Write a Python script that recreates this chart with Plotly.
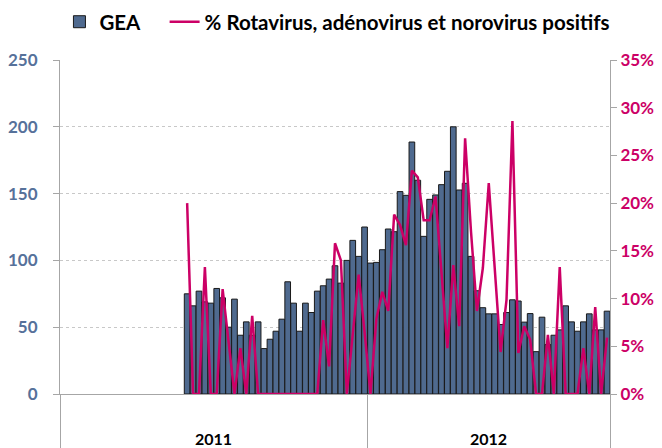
import plotly.graph_objects as go

# ---- data ----
years = ["2011", "2012"]
weeks_in_year = [52, 41]          # category slots shown per year
weeks_2011 = list(range(22, 53))  # weeks with data in 2011
weeks_2012 = list(range(1, 42))   # weeks with data in 2012

gea_2011 = [75, 66, 77, 69, 68, 79, 72, 50, 71, 44,
            54, 44, 54, 34, 41, 47, 56, 84, 68, 47,
            68, 61, 77, 81, 86, 96, 83, 100, 115, 103, 125]
gea_2012 = [98, 98.5, 108, 123.5, 121.5, 151.5, 148.7, 188.6, 160, 118,
            145.7, 149, 156.7, 166.7, 200, 152.7, 157.7, 103, 77.3, 64.6,
            60, 60, 52, 61, 70.5, 69.6, 53.8, 60.2, 31.7, 57.5,
            37, 44, 48, 66, 54, 47, 54, 60, 48, 48, 62]

pct_2011 = [20, 0, 0, 13.3, 0, 0, 11.0, 5.5, 0, 4.8,
            0, 8.2, 0, 0, 0, 0, 0, 0, 0, 0,
            0, 0, 0, 7.75, 2.9, 15.8, 14.0, 0, 6.2, 12.5, 6.5]
pct_2012 = [0, 7.9, 10.7, 8.7, 18.8, 17.7, 15.6, 23.4, 22.7, 18.2,
            18.2, 20.7, 12.7, 4.8, 13.5, 7.1, 26.8, 17.0, 8.7, 13.2,
            22.1, 13.3, 4.4, 9.85, 28.6, 4.3, 7.1, 5.7, 0, 0,
            6.2, 0, 13.3, 0, 0, 0, 4.8, 0, 9.1, 0, 5.9]

left_ticks = [0, 50, 100, 150, 200, 250]
right_ticks = [0, 5, 10, 15, 20, 25, 30, 35]

# ---- positions on a continuous week axis ----
x_2011 = [w - 1 for w in weeks_2011]
x_2012 = [weeks_in_year[0] + w - 1 for w in weeks_2012]
x_all = x_2011 + x_2012
gea_all = gea_2011 + gea_2012
pct_all = pct_2011 + pct_2012

bounds = [-0.5]
for n in weeks_in_year:
    bounds.append(bounds[-1] + n)
centers = [(bounds[i] + bounds[i + 1]) / 2 for i in range(len(years))]

FONT = "Lato, sans-serif"
BAR = "#4F6A8F"
LINE = "#CC0066"
AXIS_BLUE = "#56719A"
GRID = "#C8C8C8"
AXLINE = "#A6A6A6"
NBSP = "\u00a0"

fig = go.Figure()
fig.add_trace(go.Bar(
    x=x_all, y=gea_all, name="GEA" + NBSP * 4,
    marker=dict(color=BAR, line=dict(color="#1A1A1A", width=1)),
    yaxis="y",
))
fig.add_trace(go.Scatter(
    x=x_all, y=pct_all, name="% Rotavirus, adénovirus et norovirus positifs",
    mode="lines", line=dict(color=LINE, width=2.5),
    yaxis="y2",
))

annotations = [
    dict(x=c, y=0, xref="x", yref="paper", text=t,
         showarrow=False, yanchor="top", yshift=-33,
         font=dict(family=FONT, size=16, color="#000000", weight="bold"))
    for c, t in zip(centers, years)
]

fig.update_layout(
    width=662, height=448,
    margin=dict(l=60, r=52, t=60, b=54, autoexpand=False),
    paper_bgcolor="white", plot_bgcolor="white",
    bargap=0.04,
    showlegend=True,
    legend=dict(orientation="h", xref="paper", x=-0.001, xanchor="left",
                yref="paper", y=1.174, yanchor="top",
                font=dict(family=FONT, size=20.5, color="#000000", weight="bold"),
                itemwidth=30, traceorder="normal", tracegroupgap=0),
    font=dict(family=FONT),
    xaxis=dict(
        range=[bounds[0], bounds[-1]],
        tickmode="array", tickvals=bounds, ticktext=["" for _ in bounds],
        ticks="outside", ticklen=54, tickcolor=AXLINE, tickwidth=1,
        showline=True, linecolor=AXLINE, linewidth=1,
        showgrid=False, zeroline=False, automargin=False,
    ),
    yaxis=dict(
        range=[0, 250], tickmode="array", tickvals=left_ticks,
        ticktext=[str(v) for v in left_ticks],
        tickfont=dict(family=FONT, size=17, color=AXIS_BLUE, weight="bold"),
        ticks="outside", ticklen=6, tickcolor=AXLINE,
        showline=True, linecolor=AXLINE, linewidth=1,
        showgrid=True, gridcolor=GRID, griddash="dot", gridwidth=1,
        zeroline=False, ticklabelstandoff=12, automargin=False,
    ),
    yaxis2=dict(
        range=[0, 35], tickmode="array", tickvals=right_ticks,
        ticktext=[f"{v}%" for v in right_ticks],
        overlaying="y", side="right",
        tickfont=dict(family=FONT, size=17, color=LINE, weight="bold"),
        ticks="outside", ticklen=6, tickcolor=AXLINE,
        showline=True, linecolor=AXLINE, linewidth=1,
        showgrid=False, zeroline=False, automargin=False,
    ),
    annotations=annotations,
)

fig.write_html("out.html", config={"displayModeBar": False},
               post_script="document.body.style.margin='0';")
